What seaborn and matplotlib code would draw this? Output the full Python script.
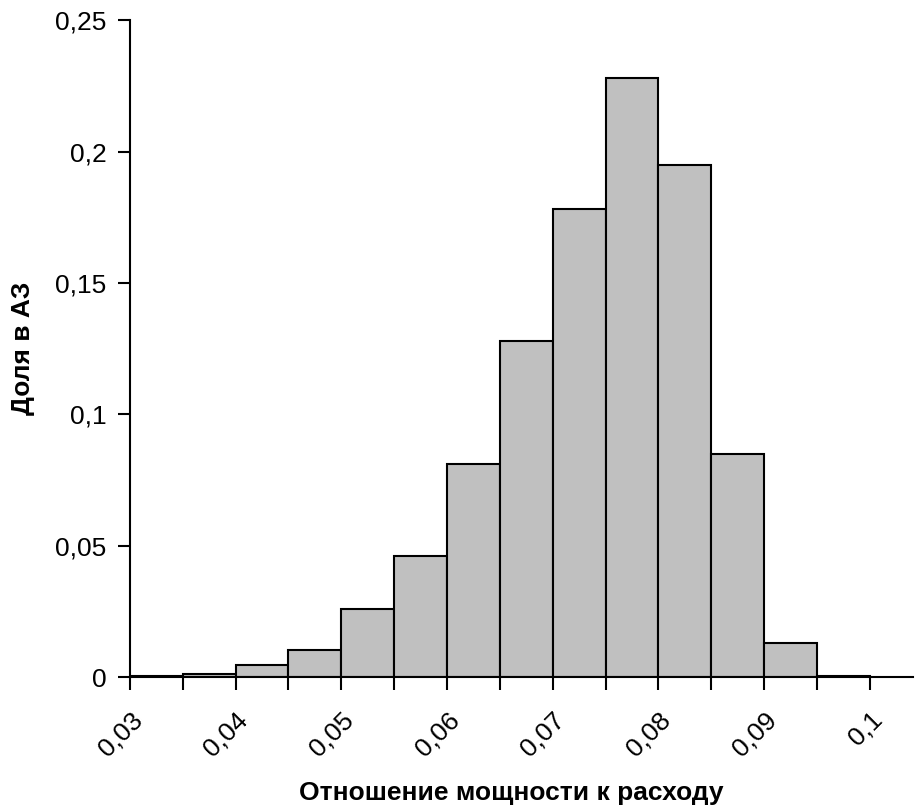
import numpy as np
import pandas as pd
import matplotlib
matplotlib.use("Agg")
import matplotlib.pyplot as plt
import seaborn as sns
from matplotlib.ticker import FuncFormatter, MultipleLocator

# границы интервалов и доли
bin_edges = [0.030, 0.035, 0.040, 0.045, 0.050, 0.055, 0.060, 0.065,
             0.070, 0.075, 0.080, 0.085, 0.090, 0.095, 0.100]
shares = [0.0006, 0.0012, 0.0045, 0.0105, 0.026, 0.046, 0.081,
          0.128, 0.178, 0.228, 0.195, 0.085, 0.013, 0.0006]

centers = [(a + b) / 2 for a, b in zip(bin_edges[:-1], bin_edges[1:])]
df = pd.DataFrame({"ratio": centers, "share": shares})

sns.set_style("ticks")
plt.rcParams['font.family'] = ['Liberation Sans', 'DejaVu Sans']
plt.rcParams['text.color'] = 'black'
plt.rcParams['axes.labelcolor'] = 'black'
plt.rcParams['xtick.color'] = 'black'
plt.rcParams['ytick.color'] = 'black'

fig = plt.figure(figsize=(9.15, 8.09), dpi=100)
ax = fig.add_axes([0.142, 0.163, 0.856, 0.812])

sns.histplot(data=df, x="ratio", weights="share", bins=bin_edges,
             color="#c0c0c0", edgecolor="black", linewidth=1.5, alpha=1,
             ax=ax)

ax.set_xlim(0.03, 0.1041)
ax.set_ylim(0, 0.25)

def fmt(v, pos):
    s = "{:g}".format(round(v, 4))
    return s.replace(".", ",")

ax.xaxis.set_major_locator(MultipleLocator(0.01))
ax.xaxis.set_minor_locator(MultipleLocator(0.005))
ax.yaxis.set_major_locator(MultipleLocator(0.05))
ax.xaxis.set_major_formatter(FuncFormatter(fmt))
ax.yaxis.set_major_formatter(FuncFormatter(fmt))

ax.tick_params(axis="x", which="both", direction="out", length=9, width=1.5,
               labelsize=19, pad=13, bottom=True)
ax.tick_params(axis="y", which="major", direction="out", length=9, width=1.5,
               labelsize=19, pad=8, left=True)
ax.tick_params(axis="y", which="minor", left=False)
plt.setp(ax.get_xticklabels(), rotation=45, ha="right", va="top",
         rotation_mode="anchor")

for side in ["top", "right"]:
    ax.spines[side].set_visible(False)
for side in ["left", "bottom"]:
    ax.spines[side].set_linewidth(1.5)
    ax.spines[side].set_color("black")

ax.set_xlabel("Отношение мощности к расходу", fontsize=19, fontweight="bold")
ax.xaxis.set_label_coords(0.487, -0.187)
ax.xaxis.label.set_va("baseline")
ax.set_ylabel("Доля в АЗ", fontsize=19, fontweight="bold")
ax.yaxis.set_label_coords(-0.121, 0.5)

fig.savefig("out.png", dpi=100)
